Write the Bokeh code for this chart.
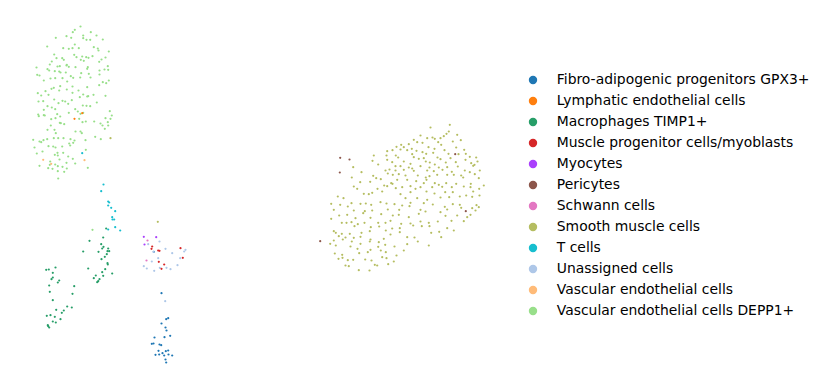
from bokeh.plotting import figure
from bokeh.models import Range1d, Legend, LegendItem
from bokeh.embed import file_html
from bokeh.resources import INLINE

categories = [
    "Fibro-adipogenic progenitors GPX3+",
    "Lymphatic endothelial cells",
    "Macrophages TIMP1+",
    "Muscle progenitor cells/myoblasts",
    "Myocytes",
    "Pericytes",
    "Schwann cells",
    "Smooth muscle cells",
    "T cells",
    "Unassigned cells",
    "Vascular endothelial cells",
    "Vascular endothelial cells DEPP1+",
]
palette = ["#1f77b4", "#ff7f0e", "#279e68", "#d62728", "#aa40fc", "#8c564b",
           "#e377c2", "#b5bd61", "#17becf", "#aec7e8", "#ffbb78", "#98df8a"]

# embedding coordinates (UMAP1 right, UMAP2 down)
fap_x = [153.3, 161.0, 165.7, 167.7, 161.0, 165.0, 166.0, 169.7, 154.0, 164.0, 151.3, 153.0, 159.0,
         160.7, 158.0, 165.3, 167.7, 162.0, 155.0, 158.7, 163.7, 168.0, 171.7, 165.0, 165.7]
fap_y = [251.3, 292.7, 318.7, 317.7, 323.0, 327.0, 330.0, 335.3, 337.0, 336.7, 343.3, 343.0, 344.0,
         344.7, 350.3, 350.7, 350.0, 352.7, 354.3, 354.0, 355.0, 354.0, 355.0, 359.0, 362.0]

lymph_x = [74.0, 81.7]
lymph_y = [118.3, 112.7]

macro_x = [105.7, 102.7, 89.0, 100.7, 103.0, 101.7, 107.7, 82.7, 98.0, 107.0, 108.7, 106.3, 104.3,
           101.0, 107.0, 107.3, 87.7, 104.7, 101.7, 111.7, 95.3, 102.7, 93.3, 99.0, 97.7, 96.7,
           45.7, 48.3, 55.0, 52.3, 52.3, 51.0, 58.7, 57.3, 48.7, 73.7, 49.3, 72.0, 52.3, 66.7,
           71.3, 55.7, 63.3, 61.3, 46.3, 50.0, 54.3, 60.0, 52.3, 55.3, 47.3, 48.7, 47.7]
macro_y = [228.0, 237.0, 240.3, 243.7, 246.3, 248.0, 248.0, 251.0, 251.3, 250.7, 250.7, 253.7, 256.3,
           258.7, 262.7, 264.0, 268.0, 268.7, 271.7, 273.0, 275.0, 275.3, 277.7, 278.7, 280.7, 281.7,
           269.3, 269.0, 267.0, 272.3, 277.0, 278.7, 280.0, 282.0, 285.0, 285.7, 291.3, 293.3, 299.7,
           306.0, 307.0, 309.3, 310.0, 312.3, 315.3, 314.7, 316.3, 318.7, 321.0, 322.0, 324.7, 327.0,
           325.7]

myoblast_x = [151.7, 151.0, 157.7, 159.0, 180.0, 182.3, 158.3, 163.7, 161.0]
myoblast_y = [246.0, 248.3, 250.0, 250.3, 247.7, 257.3, 261.3, 264.0, 268.3]

myocyte_x = [143.3, 155.7, 144.0]
myocyte_y = [236.3, 236.7, 244.0]

pericyte_x = [339.7, 349.0, 339.3, 454.7, 465.3, 319.7]
pericyte_y = [157.3, 159.0, 172.0, 153.7, 210.7, 240.7]

schwann_x = [147.0, 146.0]
schwann_y = [240.0, 260.0]

smooth_x = [
    449.3, 430.0, 448.3, 446.0, 456.7, 420.0, 426.7, 432.0, 434.3, 440.0, 443.3, 413.3, 416.7, 422.0,
    437.7, 452.3, 460.3, 408.3, 400.7, 396.0, 403.3, 406.7, 411.3, 428.0, 434.0, 440.7, 455.7, 463.7,
    386.7, 392.0, 400.0, 416.0, 411.7, 422.0, 425.7, 432.7, 444.0, 448.0, 458.0, 465.3, 373.3, 386.0,
    395.3, 397.7, 413.3, 418.3, 423.3, 437.0, 440.0, 450.0, 469.3, 475.7, 372.0, 386.7, 391.7, 403.3,
    410.0, 425.3, 429.3, 434.3, 445.3, 455.3, 465.0, 470.7, 474.0, 477.0, 377.7, 395.0, 400.0, 408.3,
    411.7, 420.0, 429.0, 438.3, 446.7, 457.3, 472.7, 352.7, 385.0, 389.0, 395.0, 403.3, 413.3, 426.7,
    433.3, 442.0, 451.3, 464.3, 469.3, 479.3, 361.0, 372.7, 387.3, 392.3, 398.3, 405.0, 417.3, 425.3,
    429.0, 436.7, 446.7, 453.3, 460.7, 474.3, 478.3, 351.3, 375.7, 380.3, 390.7, 396.7, 406.7, 415.7,
    423.3, 426.0, 434.3, 438.3, 445.7, 455.7, 462.7, 470.3, 359.7, 369.7, 383.7, 392.0, 386.7, 401.7,
    410.0, 415.0, 420.0, 431.7, 441.7, 451.3, 463.3, 470.0, 483.3, 353.3, 356.7, 377.0, 395.3, 371.7,
    381.7, 410.0, 426.0, 434.0, 444.7, 452.3, 472.7, 478.7, 337.3, 343.0, 363.3, 368.3, 400.0, 405.0,
    416.7, 426.7, 440.0, 448.7, 459.3, 465.7, 471.7, 479.0, 351.0, 330.7, 339.7, 347.3, 360.0, 365.3,
    370.7, 380.0, 386.0, 394.0, 401.7, 410.0, 423.3, 432.3, 444.3, 452.3, 459.3, 476.0, 333.3, 353.3,
    364.3, 371.7, 387.3, 398.7, 409.0, 420.0, 425.0, 440.0, 446.7, 460.7, 471.7, 478.3, 338.7, 346.7,
    355.0, 362.7, 370.0, 380.7, 392.3, 398.3, 408.3, 418.3, 445.0, 456.7, 470.0, 475.0, 330.7, 341.3,
    346.0, 351.0, 357.3, 364.0, 377.7, 385.0, 390.0, 400.7, 410.0, 420.0, 428.3, 437.3, 451.0, 463.3,
    466.7, 354.0, 370.3, 378.7, 391.7, 399.3, 412.7, 421.3, 429.0, 446.7, 453.3, 333.3, 335.3, 341.3,
    349.3, 361.0, 369.3, 385.3, 390.0, 399.3, 430.7, 438.7, 329.7, 338.3, 345.0, 353.3, 360.0, 370.0,
    378.3, 383.3, 406.7, 414.0, 440.7, 342.3, 351.3, 360.0, 369.3, 377.7, 384.7, 394.0, 406.7, 417.3,
    428.3, 333.3, 335.3, 350.0, 357.0, 370.0, 380.3, 385.3, 403.3, 334.3, 341.7, 358.7, 367.3, 381.7,
    386.0, 396.0, 338.0, 342.0, 347.3, 352.7, 364.7, 371.0, 376.7, 387.7, 393.3, 345.0, 348.3, 358.3,
    369.0, 374.3, 110.0, 157.3]
smooth_y = [
    124.3, 127.0, 131.0, 133.3, 134.3, 135.0, 137.7, 137.0, 138.3, 137.7, 135.7, 139.3, 141.7, 142.3,
    141.7, 141.0, 139.7, 143.7, 144.3, 146.3, 146.7, 149.7, 148.3, 146.7, 148.3, 144.3, 147.0, 149.3,
    150.7, 149.7, 149.0, 150.3, 153.7, 151.7, 153.3, 152.3, 149.7, 153.3, 153.7, 153.3, 155.0, 155.0,
    155.0, 157.0, 156.7, 158.3, 157.7, 157.0, 158.7, 157.7, 156.3, 157.0, 160.3, 159.3, 161.7, 161.0,
    163.3, 161.0, 162.0, 164.0, 162.0, 161.7, 159.3, 162.7, 164.3, 161.0, 164.0, 165.7, 165.7, 167.0,
    168.0, 165.7, 167.0, 167.0, 166.7, 166.0, 165.3, 166.7, 170.0, 169.0, 170.0, 169.3, 170.3, 170.0,
    170.7, 169.3, 171.3, 170.0, 171.7, 170.0, 171.7, 175.3, 173.0, 174.3, 173.7, 175.0, 175.0, 177.0,
    175.7, 174.3, 174.3, 174.3, 175.0, 173.7, 177.7, 177.0, 177.7, 178.7, 182.7, 179.3, 179.3, 180.7,
    182.7, 179.3, 182.7, 184.3, 182.7, 183.3, 177.0, 183.3, 181.7, 181.3, 185.0, 183.3, 185.7, 186.7,
    185.7, 188.3, 186.7, 186.7, 186.3, 186.7, 186.0, 186.7, 185.0, 186.0, 188.3, 188.3, 187.7, 192.3,
    191.0, 191.7, 191.0, 193.0, 191.7, 191.7, 191.0, 188.3, 196.0, 197.7, 193.3, 193.7, 193.7, 197.7,
    197.7, 199.3, 197.0, 196.7, 196.0, 195.0, 196.3, 195.0, 202.7, 203.3, 204.3, 206.0, 203.3, 203.0,
    204.3, 201.7, 203.0, 203.7, 205.0, 202.3, 202.7, 204.0, 206.3, 203.7, 204.3, 204.7, 209.3, 210.0,
    210.7, 210.0, 209.0, 209.3, 205.7, 209.3, 211.0, 211.7, 209.0, 207.3, 207.7, 206.7, 215.0, 214.3,
    217.7, 212.7, 217.3, 213.7, 215.0, 214.3, 216.7, 213.3, 215.3, 215.0, 214.3, 210.0, 218.3, 222.3,
    222.3, 221.7, 223.7, 222.3, 222.3, 222.3, 220.3, 223.3, 223.0, 221.0, 222.3, 221.0, 220.3, 220.7,
    216.7, 225.7, 226.7, 226.0, 228.0, 227.7, 225.0, 225.7, 225.7, 227.7, 230.0, 230.7, 232.3, 233.3,
    233.3, 232.3, 230.7, 230.0, 234.0, 231.7, 232.3, 231.3, 243.3, 235.7, 237.0, 237.3, 236.3, 239.0,
    241.7, 238.3, 236.7, 237.0, 236.7, 239.0, 241.0, 243.3, 241.0, 246.3, 244.3, 246.0, 243.7, 241.0,
    245.0, 240.0, 245.0, 246.0, 248.3, 249.3, 250.0, 251.7, 250.0, 253.0, 254.3, 252.7, 251.7, 256.7,
    257.7, 255.0, 258.3, 257.3, 259.7, 259.3, 259.0, 260.0, 265.0, 263.7, 261.0, 265.0, 265.7, 269.7,
    270.0, 264.3, 137.7, 221.3]

tcell_x = [103.0, 81.7, 100.7, 107.7, 108.7, 107.7, 110.7, 114.7, 111.7, 112.0, 113.7, 114.7, 107.7, 119.7]
tcell_y = [184.0, 152.7, 190.7, 201.0, 202.0, 205.0, 207.3, 210.7, 216.7, 219.0, 219.0, 226.7, 229.0, 230.0]

unassigned_x = [159.0, 147.7, 153.0, 165.0, 171.7, 183.7, 185.0, 157.7, 151.3, 179.7, 177.0, 143.3,
                146.3, 153.7, 159.3, 166.0, 170.0, 164.7]
unassigned_y = [241.0, 243.7, 251.3, 248.3, 252.7, 251.0, 249.3, 257.7, 261.0, 257.7, 264.7, 265.7,
                268.0, 270.3, 267.3, 267.3, 268.7, 300.7]

vasc_x = [42.7, 84.0, 50.7]
vasc_y = [159.3, 159.7, 163.3]

depp1_x = [
    80.0, 74.3, 72.3, 90.3, 66.0, 82.7, 96.0, 55.3, 70.7, 82.7, 86.0, 89.7, 102.3, 74.3, 46.7, 62.7,
    68.3, 72.0, 97.3, 93.3, 78.3, 108.3, 98.0, 53.7, 73.7, 76.0, 81.7, 92.0, 85.7, 88.0, 56.0, 61.7,
    63.3, 101.0, 105.0, 80.3, 51.3, 83.3, 98.7, 49.3, 66.3, 57.0, 59.3, 66.0, 68.3, 75.0, 87.3, 107.3,
    36.0, 47.0, 48.7, 86.7, 99.0, 104.0, 107.7, 36.7, 39.0, 58.7, 54.3, 60.0, 65.3, 80.7, 88.3, 99.0,
    70.3, 72.7, 50.0, 54.7, 62.0, 79.7, 90.0, 43.3, 108.3, 66.7, 102.3, 105.7, 98.7, 59.7, 72.0, 86.7,
    53.3, 51.0, 58.7, 78.0, 45.0, 66.3, 37.3, 40.7, 48.0, 72.0, 93.0, 105.0, 82.7, 79.3, 86.7, 87.7,
    53.7, 38.0, 42.7, 62.0, 64.7, 71.3, 96.3, 58.0, 67.7, 82.3, 86.0, 47.0, 51.3, 89.7, 43.3, 54.7,
    74.7, 77.3, 82.7, 80.0, 37.7, 38.3, 109.3, 43.3, 44.3, 56.7, 68.3, 111.3, 50.7, 55.0, 59.7, 78.7,
    82.0, 85.3, 93.7, 105.0, 110.0, 100.0, 102.0, 50.3, 59.3, 60.3, 63.7, 107.3, 107.7, 104.3, 47.0,
    54.0, 75.0, 80.0, 81.3, 55.3, 63.0, 70.0, 74.0, 94.7, 100.3, 32.7, 39.0, 40.7, 43.0, 46.7, 53.3,
    57.7, 85.0, 72.7, 61.7, 68.7, 69.7, 34.0, 48.0, 52.7, 55.0, 85.3, 42.0, 36.3, 54.3, 57.0, 62.7,
    57.3, 67.7, 59.0, 72.3, 49.7, 66.0, 74.7, 54.7, 49.3, 39.0, 87.3, 47.7, 52.0, 57.3, 62.0, 66.3,
    57.3, 63.7, 57.7, 92.0]
depp1_y = [
    26.0, 29.3, 31.7, 31.7, 35.7, 35.0, 35.0, 37.3, 37.3, 37.7, 39.3, 39.3, 39.0, 44.0, 46.0, 47.7,
    48.3, 47.7, 48.0, 46.7, 47.7, 51.0, 50.0, 54.0, 54.3, 56.7, 56.0, 55.7, 56.7, 57.3, 57.7, 57.7,
    59.3, 59.0, 57.0, 59.3, 61.0, 60.3, 61.3, 64.0, 64.3, 66.0, 65.7, 65.0, 66.3, 66.7, 66.7, 65.7,
    67.0, 68.7, 70.0, 68.3, 70.0, 69.0, 69.3, 74.3, 75.0, 71.0, 70.7, 72.0, 72.0, 72.7, 73.3, 74.0,
    75.7, 77.3, 78.0, 77.7, 77.7, 77.0, 77.0, 80.0, 80.0, 81.0, 81.7, 82.7, 84.7, 85.7, 86.0, 86.7,
    87.3, 88.3, 90.0, 90.0, 90.7, 89.0, 92.7, 95.0, 94.3, 92.3, 94.3, 95.3, 94.0, 96.7, 96.0, 95.7,
    99.0, 101.0, 100.7, 100.3, 101.0, 99.7, 102.0, 102.7, 103.3, 105.0, 105.3, 105.7, 107.0, 105.7,
    109.3, 108.7, 108.7, 111.0, 112.3, 113.3, 114.0, 115.7, 110.7, 114.7, 115.0, 113.7, 112.3, 115.0,
    118.7, 117.7, 116.0, 118.3, 121.7, 121.0, 121.0, 117.7, 118.3, 123.0, 125.0, 125.0, 122.3, 122.7,
    123.7, 121.7, 125.0, 128.3, 129.3, 129.3, 131.0, 131.0, 132.7, 132.7, 137.7, 138.7, 140.0, 136.3,
    138.7, 139.3, 141.0, 141.7, 139.7, 138.7, 137.7, 137.7, 139.7, 142.3, 146.0, 143.0, 145.0, 147.0,
    145.7, 146.0, 147.0, 149.3, 151.0, 153.0, 154.3, 152.3, 152.3, 155.0, 156.0, 159.0, 158.3, 161.0,
    162.3, 163.0, 164.0, 164.3, 165.3, 167.3, 167.7, 168.3, 165.7, 166.3, 168.0, 170.7, 171.3, 178.0,
    229.3]

series_x = [fap_x, lymph_x, macro_x, myoblast_x, myocyte_x, pericyte_x, schwann_x, smooth_x,
            tcell_x, unassigned_x, vasc_x, depp1_x]
series_y = [fap_y, lymph_y, macro_y, myoblast_y, myocyte_y, pericyte_y, schwann_y, smooth_y,
            tcell_y, unassigned_y, vasc_y, depp1_y]

p = figure(width=826, height=389, x_range=Range1d(0, 826), y_range=Range1d(389, 0),
           output_backend="svg", toolbar_location=None, min_border=0,
           x_axis_location=None, y_axis_location=None)
p.grid.visible = False
p.outline_line_color = None
p.background_fill_color = "white"
p.border_fill_color = "white"

# draw in an order so that large clusters do not hide small ones
draw_order = [11, 7, 2, 0, 8, 9, 3, 4, 5, 6, 1, 10]
renderers = {}
for i in draw_order:
    r = p.scatter(series_x[i], series_y[i], size=2.2, marker="circle",
                  fill_color=palette[i], line_color=None, fill_alpha=1.0)
    renderers[i] = r

items = [LegendItem(label=categories[i], renderers=[renderers[i]]) for i in range(len(categories))]
legend = Legend(items=items, location=(521.8, 68.2), orientation="vertical",
                glyph_width=21, glyph_height=21, label_height=21, spacing=0,
                padding=0, margin=0, label_standoff=14,
                label_text_font="DejaVu Sans", label_text_font_size="13.9px",
                label_text_color="#000000", border_line_alpha=0,
                background_fill_alpha=0)
p.add_layout(legend)

open("out.html", "w").write(file_html(p, INLINE))
